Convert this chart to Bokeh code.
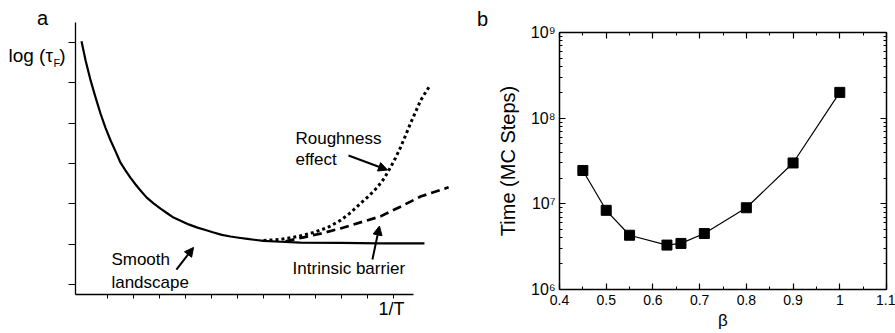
from bokeh.plotting import figure
from bokeh.models import (Label, Arrow, NormalHead, FixedTicker, LinearAxis, LogAxis,
                          CustomJSTickFormatter, Range1d, SingleIntervalTicker, LogTicker,
                          CustomLabelingPolicy)
from bokeh.layouts import row
from bokeh.embed import file_html
from bokeh.resources import INLINE

FONT = "Liberation Sans"

# ---------------- Panel a (schematic, arbitrary units) ----------------
smooth_x = [0.0, 0.16, 0.35, 0.54, 0.73, 0.92, 1.12, 1.31, 1.5, 1.69, 1.88, 2.08, 2.27,
            2.5, 2.77, 3.04, 3.31, 3.54, 3.81, 4.12, 4.46, 4.77, 5.08, 5.4, 5.73, 6.05,
            6.38, 7.0, 7.65, 8.42, 9.96, 11.5, 13.19]
smooth_y = [6.03, 5.55, 5.06, 4.64, 4.24, 3.89, 3.57, 3.3, 3.02, 2.83, 2.65, 2.48, 2.33,
            2.16, 2.01, 1.88, 1.76, 1.66, 1.58, 1.49, 1.41, 1.35, 1.29, 1.23, 1.19, 1.16,
            1.13, 1.08, 1.06, 1.04, 1.03, 1.02, 1.02]

rough_x = [7.0, 7.65, 8.31, 8.92, 9.46, 9.96, 10.35, 10.73, 11.06, 11.38, 11.65, 11.88,
           12.08, 12.27, 12.46, 12.65, 12.85, 13.04, 13.23, 13.42]
rough_y = [1.09, 1.12, 1.19, 1.29, 1.41, 1.59, 1.78, 2.01, 2.2, 2.41, 2.64, 2.9,
           3.14, 3.4, 3.69, 3.99, 4.28, 4.56, 4.76, 4.95]

barrier_x = [7.85, 8.54, 9.19, 9.96, 10.73, 11.5, 12.27, 13.04, 14.12]
barrier_y = [1.07, 1.17, 1.26, 1.39, 1.54, 1.69, 1.93, 2.18, 2.41]

# annotation arrows: (x_start, y_start, x_end, y_end)
arrow_rough = (10.27, 3.20, 11.77, 2.84)
arrow_smooth = (3.65, 0.37, 4.31, 0.92)
arrow_barrier = (11.19, 0.62, 11.46, 1.45)

a_xticks = list(range(1, 13))
a_yticks = list(range(0, 7))
a_xbounds = (-0.23, 12.77)
a_ybounds = (-0.25, 6.5)

# ---------------- Panel b ----------------
beta = [0.45, 0.5, 0.55, 0.63, 0.66, 0.71, 0.8, 0.9, 1.0]
time_mc = [2.45e7, 8.4e6, 4.3e6, 3.3e6, 3.45e6, 4.5e6, 9.0e6, 3.0e7, 2.0e8]
b_xbounds = (0.4, 1.1)
b_ybounds = (1e6, 1e9)

HIDE = CustomLabelingPolicy(code="""
const n = indices.size;
for (let i = 0; i < n; i++) indices.unset(i);
return indices;
""")

def lab(p, x, y, text, size="17px", align="left"):
    p.add_layout(Label(x=x, y=y, text=text, text_font=FONT, text_font_size=size,
                       text_align=align, text_baseline="middle", text_color="black"))

# =====================================================================
# Panel a: frame covers the whole figure; axes drawn at fixed locations
W1, H1 = 460, 333
p1 = figure(width=W1, height=H1,
            x_range=Range1d((0 - 81) / 26, (W1 - 81) / 26),
            y_range=Range1d((284 - H1) / 40.33, 284 / 40.33),
            output_backend="svg", toolbar_location=None, min_border=0)
p1.outline_line_color = None
p1.grid.visible = False
p1.background_fill_color = "white"
p1.border_fill_color = "white"

xa = p1.xaxis[0]
xa.ticker = FixedTicker(ticks=a_xticks)
xa.bounds = a_xbounds
xa.fixed_location = a_ybounds[0]
xa.major_label_policy = HIDE
xa.major_tick_out = 4
xa.major_tick_in = 0
xa.minor_tick_out = 0
xa.minor_tick_in = 0
xa.axis_line_width = 1.3
xa.major_tick_line_width = 1

ya = p1.yaxis[0]
ya.ticker = FixedTicker(ticks=a_yticks)
ya.bounds = a_ybounds
ya.fixed_location = a_xbounds[0]
ya.major_label_policy = HIDE
ya.major_tick_out = 7
ya.major_tick_in = 0
ya.minor_tick_out = 0
ya.minor_tick_in = 0
ya.axis_line_width = 1.3

p1.line(smooth_x, smooth_y, line_color="black", line_width=2.2, line_join="round")
p1.line(rough_x, rough_y, line_color="black", line_width=3, line_dash="3 3")
p1.line(barrier_x, barrier_y, line_color="black", line_width=2.7, line_dash="9 5")

for (x0, y0, x1, y1) in (arrow_rough, arrow_smooth, arrow_barrier):
    p1.add_layout(Arrow(end=NormalHead(size=9, fill_color="black", line_color="black"),
                        x_start=x0, y_start=y0, x_end=x1, y_end=y1,
                        line_color="black", line_width=2))

lab(p1, -1.5, 6.62, "a", "20px", "center")
lab(p1, -2.81, 5.68, "log (τ", "19px")
lab(p1, -1.08, 5.49, "F", "11px")
lab(p1, -0.86, 5.68, ")", "19px")
lab(p1, 11.42, -0.6, "1/T", "18px")
lab(p1, 8.23, 3.62, "Roughness")
lab(p1, 8.23, 3.10, "effect")
lab(p1, 1.15, 0.62, "Smooth")
lab(p1, 1.15, 0.05, "landscape")
lab(p1, 8.12, 0.40, "Intrinsic barrier")

# =====================================================================
# Panel b: frame covers the whole figure; box axes at fixed locations
W2, H2 = 435, 333
FL, FR, FT, FB = 99, 426, 32, 289          # box edges in figure pixels
xppu = (FR - FL) / (b_xbounds[1] - b_xbounds[0])
ppd = (FB - FT) / 3.0
p2 = figure(width=W2, height=H2,
            x_range=Range1d(b_xbounds[0] - FL / xppu, b_xbounds[1] + (W2 - FR) / xppu),
            y_range=Range1d(10 ** (6 - (H2 - FB) / ppd), 10 ** (9 + FT / ppd)),
            y_axis_type="log", output_backend="svg", toolbar_location=None, min_border=0)
p2.grid.visible = False
p2.outline_line_color = None
p2.background_fill_color = "white"
p2.border_fill_color = "white"

xfmt = CustomJSTickFormatter(code="return tick.toFixed(1).replace(/\\.0$/, '');")
yfmt = CustomJSTickFormatter(code="""
const s = {'0':'⁰','1':'¹','2':'²','3':'³','4':'⁴','5':'⁵','6':'⁶','7':'⁷','8':'⁸','9':'⁹'};
const e = String(Math.round(Math.log10(tick)));
return '10' + e.split('').map(c => s[c]).join('');
""")

def style_axis(ax, show_labels):
    ax.major_tick_in = 6
    ax.major_tick_out = 0
    ax.minor_tick_in = 3
    ax.minor_tick_out = 0
    ax.axis_line_width = 1.5
    ax.axis_line_color = "black"
    ax.major_tick_line_width = 1.2
    ax.minor_tick_line_width = 1
    if show_labels:
        ax.major_label_text_font = FONT
        ax.major_label_text_font_size = "14px"
        ax.major_label_text_color = "black"
    else:
        ax.major_label_policy = HIDE

bx = p2.xaxis[0]
bx.ticker = SingleIntervalTicker(interval=0.1, num_minor_ticks=2)
bx.formatter = xfmt
bx.bounds = b_xbounds
bx.fixed_location = b_ybounds[0]
style_axis(bx, True)
bx.major_label_standoff = 5
bx.axis_label = "β"
bx.axis_label_text_font = FONT
bx.axis_label_text_font_size = "17px"
bx.axis_label_text_font_style = "normal"
bx.axis_label_text_color = "black"
bx.axis_label_standoff = 3

by = p2.yaxis[0]
by.ticker = LogTicker(num_minor_ticks=10)
by.formatter = yfmt
by.bounds = b_ybounds
by.fixed_location = b_xbounds[0]
style_axis(by, True)
by.major_label_text_font_size = "16px"
by.major_label_standoff = 4
by.axis_label = "Time (MC Steps)"
by.axis_label_text_font = FONT
by.axis_label_text_font_size = "20px"
by.axis_label_text_font_style = "normal"
by.axis_label_text_color = "black"
by.axis_label_standoff = 9

top_ax = LinearAxis(ticker=SingleIntervalTicker(interval=0.1, num_minor_ticks=2),
                    bounds=b_xbounds, fixed_location=b_ybounds[1])
style_axis(top_ax, False)
p2.add_layout(top_ax, "above")
right_ax = LogAxis(ticker=LogTicker(num_minor_ticks=10), bounds=b_ybounds,
                   fixed_location=b_xbounds[1])
style_axis(right_ax, False)
p2.add_layout(right_ax, "right")

p2.line(beta, time_mc, line_color="black", line_width=1.2)
p2.scatter(beta, time_mc, marker="square", size=10, fill_color="black", line_color="black")

lab(p2, b_xbounds[0] - 77 / xppu, 10 ** (9 + 14 / ppd), "b", "20px", "center")

layout = row(p1, p2)
open("out.html", "w").write(file_html(layout, INLINE))
